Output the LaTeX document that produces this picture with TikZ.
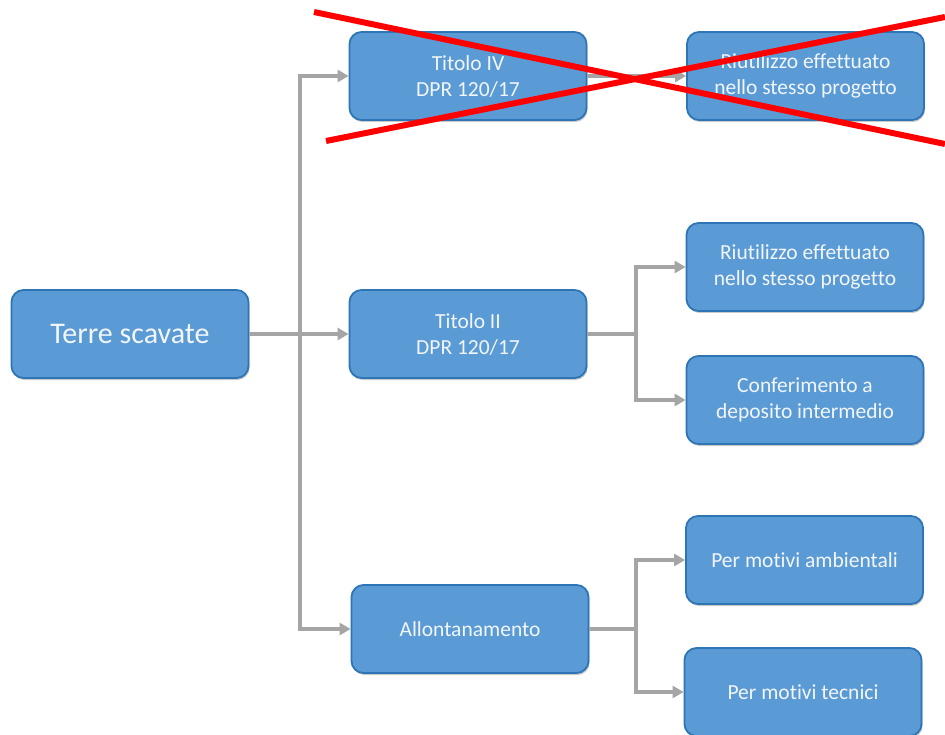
\documentclass[tikz,border=0pt]{standalone}
\usepackage{fontspec}
\setmainfont[Ligatures=NoCommon]{Carlito}
\usetikzlibrary{arrows.meta,shadows}
\definecolor{boxfill}{HTML}{5B9BD5}
\definecolor{boxedge}{HTML}{2E75B6}
\definecolor{conn}{HTML}{A5A5A5}
\definecolor{txt}{HTML}{F2F5FA}
\tikzset{
  box/.style={draw=boxedge, line width=1.8pt, fill=boxfill, rounded corners=12pt,
    minimum width=237pt, minimum height=88pt, text=txt, align=center,
    font=\fontsize{21.5}{26}\selectfont, inner sep=0pt,
    drop shadow={shadow xshift=1pt, shadow yshift=-2pt, opacity=0.35, fill=black!60}},
  bigbox/.style={box, font=\fontsize{30}{34}\selectfont},
  link/.style={draw=conn, line width=3.5pt},
  arr/.style={link, -{Triangle[length=11pt,width=12pt]}},
  cross/.style={draw=red, line width=6pt}
}
\begin{document}
\begin{tikzpicture}[x=1pt,y=-1pt]
\useasboundingbox[fill=white] (0,0) rectangle (945,735);
\node[bigbox] (terre) at (130,334) {Terre scavate};
\node[box] (t4) at (468,76) {Titolo IV\\DPR 120/17};
\node[box] (r1) at (805.5,76) {Riutilizzo effettuato\\nello stesso progetto};
\node[box] (t2) at (468,334) {Titolo II\\DPR 120/17};
\node[box] (r2) at (805,267) {Riutilizzo effettuato\\nello stesso progetto};
\node[box] (conf) at (805,400) {Conferimento a\\deposito intermedio};
\node[box] (allo) at (470,629) {Allontanamento};
\node[box] (amb) at (804.5,560) {Per motivi ambientali};
\node[box] (tec) at (803,692) {Per motivi tecnici};
\coordinate (j1) at (300,334);
\coordinate (j2) at (636,334);
\coordinate (j3) at (636,629);
\draw[link] (terre.east) -- (j1);
\draw[arr] (j1) |- (t4.west);
\draw[arr] (j1) -- (t2.west);
\draw[arr] (j1) |- (allo.west);
\draw[arr] (t4.east) -- (r1.west);
\draw[link] (t2.east) -- (j2);
\draw[arr] (j2) |- (r2.west);
\draw[arr] (j2) |- (conf.west);
\draw[link] (allo.east) -- (j3);
\draw[arr] (j3) |- (amb.west);
\draw[arr] (j3) |- (tec.west);
\coordinate (c1) at (314,12);
\coordinate (c2) at (945,144);
\coordinate (c3) at (326,141);
\coordinate (c4) at (945,17);
\draw[cross] (c1) -- (c2);
\draw[cross] (c3) -- (c4);
\end{tikzpicture}
\end{document}
